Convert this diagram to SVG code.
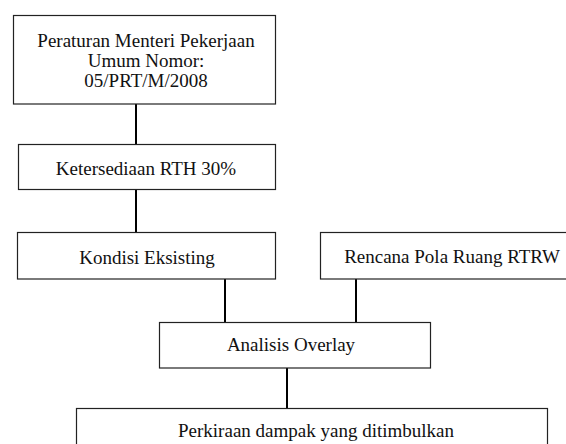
<svg xmlns="http://www.w3.org/2000/svg" width="566" height="444" viewBox="0 0 566 444">
<style>
.box{fill:#fff;stroke:#222;stroke-width:1.2}
.con{stroke:#000;stroke-width:2;fill:none}
text{font-family:"Liberation Serif","Times New Roman",serif;font-size:19px;fill:#111;text-anchor:middle}
</style>
<rect width="566" height="444" fill="#fff"/>
<g id="connectors">
<line class="con" x1="136" y1="104" x2="136" y2="144"/>
<line class="con" x1="136" y1="189" x2="136" y2="232"/>
<line class="con" x1="225" y1="279" x2="225" y2="322"/>
<line class="con" x1="356" y1="279" x2="356" y2="322"/>
<line class="con" x1="287" y1="368" x2="287" y2="408"/>
</g>
<g id="n1">
<rect class="box" x="13.5" y="15.5" width="262" height="88.5"/>
<text x="146" y="47">Peraturan Menteri Pekerjaan</text>
<text x="146" y="67">Umum Nomor:</text>
<text x="146" y="87">05/PRT/M/2008</text>
</g>
<g id="n2">
<rect class="box" x="18.5" y="144.5" width="257" height="45"/>
<text x="146" y="175">Ketersediaan RTH 30%</text>
</g>
<g id="n3">
<rect class="box" x="17.5" y="232.5" width="258" height="46.5"/>
<text x="147" y="264">Kondisi Eksisting</text>
</g>
<g id="n4">
<rect class="box" x="320.5" y="232.5" width="260" height="46.5"/>
<text x="452" y="263">Rencana Pola Ruang RTRW</text>
</g>
<g id="n5">
<rect class="box" x="159.5" y="322.5" width="271" height="45.5"/>
<text x="291" y="351">Analisis Overlay</text>
</g>
<g id="n6">
<rect class="box" x="76.5" y="408.5" width="471" height="60"/>
<text x="316" y="437">Perkiraan dampak yang ditimbulkan</text>
</g>
</svg>
